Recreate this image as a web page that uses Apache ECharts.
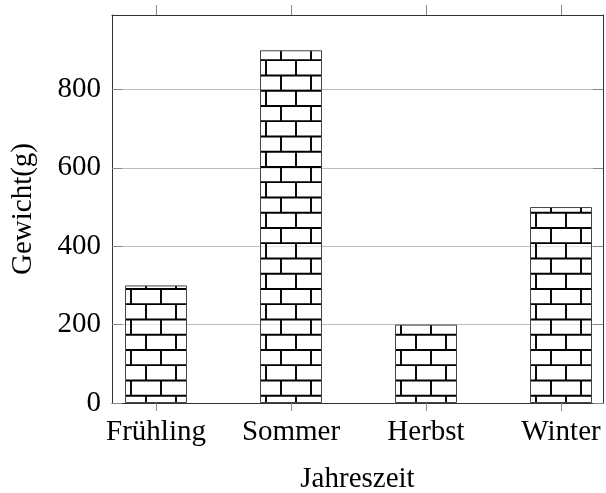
<!DOCTYPE html>
<html><head><meta charset="utf-8">
<script src="https://cdn.jsdelivr.net/npm/echarts@6/dist/echarts.min.js"></script>
<style>html,body{margin:0;padding:0;background:#fff}#c{width:606px;height:493px}</style>
</head><body><div id="c"></div>
<script>
const categories = ['Frühling', 'Sommer', 'Herbst', 'Winter'];
const weights = [300, 900, 200, 500];
const yTicks = [0, 200, 400, 600, 800];
const xName = 'Jahreszeit';
const yName = 'Gewicht(g)';

// brick pattern tile (global canvas coordinates)
function brickTile() {
  const W = 30, H = 61;
  const cv = document.createElement('canvas');
  cv.width = W; cv.height = H;
  const ctx = cv.getContext('2d');
  ctx.fillStyle = 'rgba(255,255,255,0.55)';
  ctx.fillRect(0, 0, W, H);
  ctx.strokeStyle = '#000';
  ctx.lineWidth = 1.9;
  const rows = [14.5, 29.75, 45, 60.25];
  const vx = [11, 26, 11, 26];
  ctx.beginPath();
  rows.forEach((y) => { ctx.moveTo(0, y); ctx.lineTo(W, y); });
  for (let i = 0; i < 4; i++) {
    let y0 = rows[i], y1 = i < 3 ? rows[i + 1] : rows[0] + H;
    const x = vx[i];
    ctx.moveTo(x, y0); ctx.lineTo(x, y1);
    if (y1 > H) { ctx.moveTo(x, y0 - H); ctx.lineTo(x, y1 - H); }
  }
  ctx.stroke();
  return cv;
}

const font = 'Liberation Serif';
const fs = 29;
const chart = echarts.init(document.getElementById('c'), null, {renderer: 'canvas'});
const xIdx = categories.map((_, i) => i);
chart.setOption({
  animation: false,
  textStyle: {fontFamily: font},
  grid: {left: 112, right: 3, top: 15, bottom: 90, containLabel: false, outerBoundsMode: 'none'},
  xAxis: [{
    type: 'value', min: -0.326, max: 3.311, position: 'bottom',
    name: xName, nameLocation: 'middle', nameGap: 62,
    nameTextStyle: {fontSize: fs, color: '#000', fontFamily: font},
    axisLine: {show: true, onZero: false, lineStyle: {color: '#333', width: 1}},
    axisTick: {show: true, inside: false, length: 8, customValues: xIdx, lineStyle: {color: '#888'}},
    axisLabel: {show: true, customValues: xIdx, margin: 15, fontSize: fs, color: '#000', fontFamily: font,
      formatter: (v) => categories[Math.round(v)] || ''},
    splitLine: {show: false}
  }, {
    type: 'value', min: -0.326, max: 3.311, position: 'top',
    axisLine: {show: true, onZero: false, lineStyle: {color: '#333', width: 1}},
    axisTick: {show: true, inside: false, length: 10, customValues: xIdx, lineStyle: {color: '#888'}},
    axisLabel: {show: false},
    splitLine: {show: false}
  }],
  yAxis: [{
    type: 'value', min: 0, max: 990, interval: 200, position: 'left',
    name: yName, nameLocation: 'middle', nameGap: 74, nameRotate: 90,
    nameTextStyle: {fontSize: fs, color: '#000', fontFamily: font},
    axisLine: {show: true, onZero: false, lineStyle: {color: '#333', width: 1}},
    axisTick: {show: true, inside: true, length: 10, customValues: yTicks, lineStyle: {color: '#888'}},
    axisLabel: {show: true, customValues: yTicks, margin: 11, fontSize: fs, color: '#000', fontFamily: font},
    splitLine: {show: true, lineStyle: {color: '#bdbdbd', width: 1}}
  }, {
    type: 'value', min: 0, max: 990, interval: 200, position: 'right',
    axisLine: {show: true, onZero: false, lineStyle: {color: '#333', width: 1}},
    axisTick: {show: true, inside: true, length: 10, customValues: yTicks, lineStyle: {color: '#888'}},
    axisLabel: {show: false},
    splitLine: {show: false}
  }],
  series: [{
    type: 'bar', xAxisIndex: 0, yAxisIndex: 0, barWidth: 62,
    data: weights.map((v, i) => [i, v]),
    itemStyle: {color: {image: brickTile(), repeat: 'repeat'}, borderColor: '#444', borderWidth: 1}
  }]
});
</script></body></html>
